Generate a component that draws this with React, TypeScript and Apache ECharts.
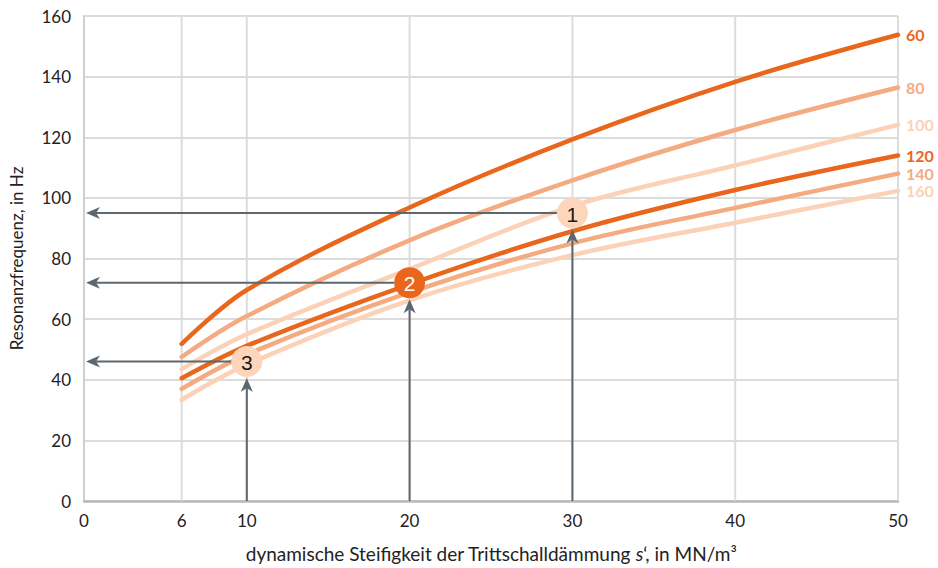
import React, { useEffect, useRef } from "react";
import * as echarts from "echarts";

// dynamic stiffness s' (MN/m³)
const sValues = [6, 10, 20, 30, 40, 50];
// resonance frequency (Hz) per mass curve (kg/m²)
const f60 = [51.8, 69.6, 96.8, 119.3, 138.3, 153.8];
const f80 = [47.5, 61.0, 86.0, 105.8, 122.4, 136.4];
const f100 = [43.5, 55.0, 76.5, 97.3, 110.7, 124.1];
const f120 = [40.5, 51.2, 71.5, 89.0, 102.6, 114.0];
const f140 = [37.0, 48.3, 68.8, 85.0, 96.7, 108.0];
const f160 = [33.4, 45.0, 66.2, 81.1, 91.8, 102.3];

const curveNames = ["100", "160", "80", "140", "60", "120"];
const curveData = [f100, f160, f80, f140, f60, f120];
const curveColors = ["#fbd2b7", "#fbd2b7", "#f4ab81", "#f4ab81", "#e9661d", "#e9661d"];

const xTicks = [0, 6, 10, 20, 30, 40, 50];
const xGridValues = [6, 10, 20, 30, 40, 50];

// example points
const pointS = [30, 20, 10];
const pointF = [95, 72, 46];
const pointLabels = ["1", "2", "3"];
const pointFill = ["#fcd5bb", "#e9661d", "#fcd5bb"];
const pointText = ["#1a1a1a", "#ffffff", "#1a1a1a"];

const FONT = "Lato, 'Open Sans', sans-serif";
const ARROW = "#5d676f";

export default function App() {
  const ref = useRef<HTMLDivElement>(null);

  useEffect(() => {
    if (!ref.current) return;
    const chart = echarts.init(ref.current, null, { renderer: "svg" });

    const lineSeries = curveNames.map((name, i) => ({
      name,
      type: "line",
      data: sValues.map((s, j) => [s, curveData[i][j]]),
      smooth: 0.35,
      showSymbol: false,
      symbol: "none",
      z: 2,
      lineStyle: { width: 4.5, color: curveColors[i], cap: "round" },
      itemStyle: { color: curveColors[i] },
      endLabel: {
        show: true,
        formatter: name,
        color: curveColors[i],
        fontFamily: FONT,
        fontWeight: "bold",
        fontSize: 16,
        distance: 8,
      },
      emphasis: { disabled: true },
    }));

    const gridSeries = {
      type: "custom",
      z: 1,
      silent: true,
      data: xGridValues.map((v) => [v]),
      encode: { x: 0 },
      renderItem: (params: any, api: any) => {
        const v = api.value(0);
        const p0 = api.coord([v, 0]);
        const p1 = api.coord([v, 160]);
        return {
          type: "line",
          shape: { x1: p0[0], y1: p0[1], x2: p1[0], y2: p1[1] },
          style: { stroke: "#dcdcdc", lineWidth: 2 },
        };
      },
    };

    const annotSeries = {
      type: "custom",
      z: 5,
      silent: true,
      data: pointS.map((s, i) => [s, pointF[i], i]),
      encode: { x: 0, y: 1 },
      renderItem: (params: any, api: any) => {
        const s = api.value(0);
        const f = api.value(1);
        const idx = api.value(2);
        const p = api.coord([s, f]);
        const pb = api.coord([s, 0]);
        const pl = api.coord([0, f]);
        const r = 15.5;
        const hx = pl[0] + 2;
        const vy = p[1] + r + 1;
        return {
          type: "group",
          children: [
            {
              type: "line",
              shape: { x1: p[0], y1: pb[1], x2: p[0], y2: vy + 10 },
              style: { stroke: ARROW, lineWidth: 2 },
            },
            {
              type: "polygon",
              shape: {
                points: [
                  [p[0], vy],
                  [p[0] - 6, vy + 14],
                  [p[0], vy + 10],
                  [p[0] + 6, vy + 14],
                ],
              },
              style: { fill: ARROW },
            },
            {
              type: "line",
              shape: { x1: p[0] - r, y1: p[1], x2: hx + 10, y2: p[1] },
              style: { stroke: ARROW, lineWidth: 2 },
            },
            {
              type: "polygon",
              shape: {
                points: [
                  [hx, p[1]],
                  [hx + 14, p[1] - 6],
                  [hx + 10, p[1]],
                  [hx + 14, p[1] + 6],
                ],
              },
              style: { fill: ARROW },
            },
            {
              type: "circle",
              shape: { cx: p[0], cy: p[1], r },
              style: { fill: pointFill[idx] },
            },
            {
              type: "text",
              x: p[0],
              y: p[1] + 1,
              style: {
                text: pointLabels[idx],
                fill: pointText[idx],
                font: "21px 'Liberation Sans', Arial, sans-serif",
                align: "center",
                verticalAlign: "middle",
              },
            },
          ],
        };
      },
    };

    chart.setOption({
      animation: false,
      backgroundColor: "#ffffff",
      grid: { left: 81, right: 40, top: 16, bottom: 67, containLabel: false },
      xAxis: {
        type: "value",
        min: 0,
        max: 50,
        name: "dynamische Steifigkeit der Trittschalldämmung {i|s}‘, in MN/m³",
        nameLocation: "middle",
        nameGap: 43,
        nameTextStyle: {
          fontFamily: FONT,
          fontSize: 19,
          color: "#222222",
          rich: { i: { fontStyle: "italic", fontFamily: FONT, fontSize: 19, color: "#222222" } },
        },
        axisLine: { show: true, lineStyle: { color: "#b9b9b9", width: 2.5 } },
        axisTick: { show: false },
        splitLine: { show: false },
        axisLabel: {
          customValues: xTicks,
          fontFamily: FONT,
          fontSize: 17,
          color: "#222222",
          margin: 11,
        },
      },
      yAxis: {
        type: "value",
        min: 0,
        max: 160,
        interval: 20,
        name: "Resonanzfrequenz, in Hz",
        nameLocation: "middle",
        nameGap: 59,
        nameTextStyle: { fontFamily: FONT, fontSize: 17, color: "#222222" },
        axisLine: { show: true, lineStyle: { color: "#cfcfcf", width: 2 } },
        axisTick: { show: false },
        splitLine: { show: true, lineStyle: { color: "#dcdcdc", width: 2 } },
        axisLabel: { fontFamily: FONT, fontSize: 17, color: "#222222", margin: 13 },
      },
      series: [gridSeries, ...lineSeries, annotSeries],
    });

    return () => chart.dispose();
  }, []);

  return (
    <div
      ref={ref}
      style={{ position: "fixed", left: 0, top: 0, width: 938, height: 568, background: "#fff" }}
    />
  );
}
